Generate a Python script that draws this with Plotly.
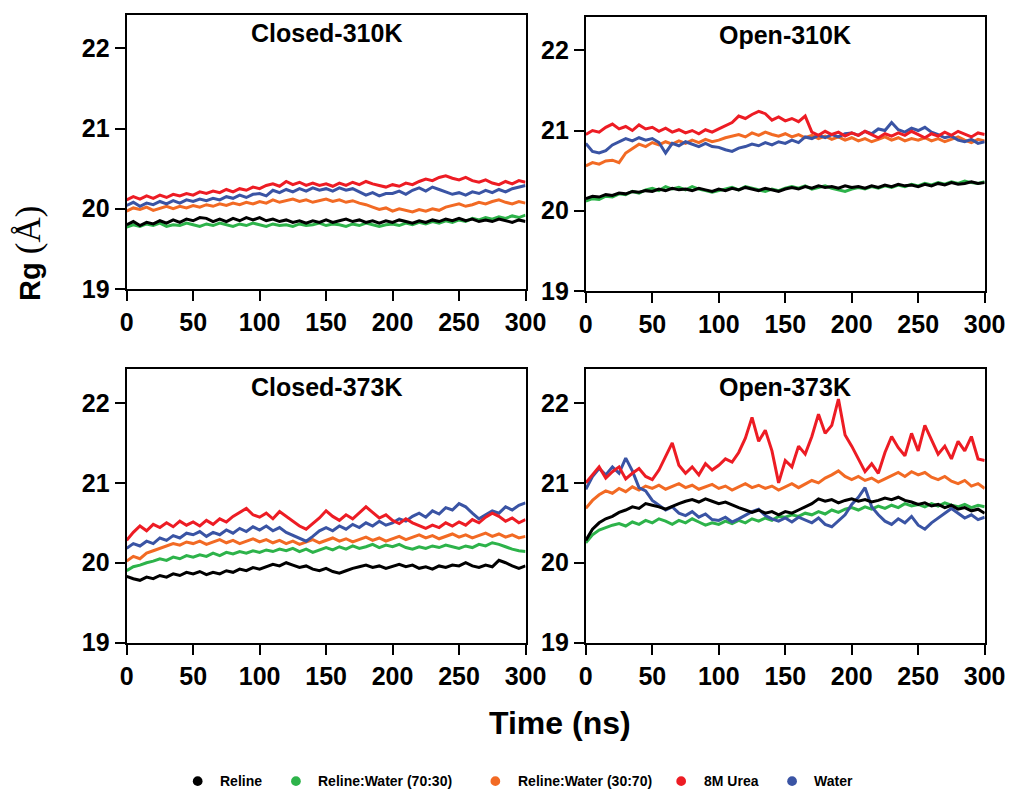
import plotly.graph_objects as go

# ---------------- data ----------------
time_ns = list(range(0, 301, 5))  # sampling every 5 ns

series_names = ["Reline", "Reline:Water (70:30)", "Reline:Water (30:70)", "8M Urea", "Water"]
series_colors = ["#000000", "#2DB34A", "#F26A24", "#ED1C24", "#3A54A4"]
panel_titles = ["Closed-310K", "Open-310K", "Closed-373K", "Open-373K"]
x_ticks = [0, 50, 100, 150, 200, 250, 300]
y_ticks = [19, 20, 21, 22]

# Closed-310K
c310_reline = [19.80,19.84,19.79,19.83,19.81,19.85,19.82,19.86,19.83,19.87,
               19.85,19.89,19.88,19.84,19.87,19.84,19.88,19.85,19.89,19.86,
               19.89,19.85,19.87,19.84,19.86,19.83,19.85,19.82,19.85,19.83,
               19.86,19.83,19.85,19.87,19.84,19.86,19.83,19.85,19.82,19.85,
               19.83,19.86,19.84,19.82,19.85,19.83,19.86,19.84,19.87,19.85,
               19.88,19.85,19.87,19.84,19.86,19.84,19.87,19.85,19.83,19.86,
               19.84]
c310_rw7030 = [19.77,19.80,19.78,19.81,19.79,19.82,19.78,19.80,19.79,19.82,
               19.80,19.78,19.81,19.79,19.82,19.80,19.78,19.81,19.79,19.82,
               19.80,19.78,19.81,19.79,19.80,19.78,19.81,19.79,19.80,19.82,
               19.79,19.81,19.80,19.78,19.81,19.79,19.82,19.80,19.78,19.80,
               19.81,19.79,19.82,19.80,19.83,19.81,19.84,19.82,19.85,19.83,
               19.86,19.84,19.88,19.86,19.89,19.87,19.90,19.88,19.91,19.89,
               19.92]
c310_rw3070 = [19.97,20.01,19.99,20.02,19.98,20.01,20.03,20.00,20.03,20.01,
               20.04,20.02,20.05,20.03,20.06,20.04,20.07,20.05,20.08,20.06,
               20.09,20.07,20.11,20.08,20.10,20.12,20.09,20.11,20.08,20.10,
               20.12,20.09,20.11,20.08,20.10,20.07,20.05,20.02,19.99,20.01,
               19.97,20.00,19.98,19.96,19.99,19.97,20.00,19.98,20.02,20.04,
               20.06,20.03,20.05,20.08,20.06,20.09,20.11,20.08,20.06,20.09,
               20.07]
c310_urea = [20.11,20.15,20.12,20.16,20.13,20.17,20.14,20.18,20.16,20.19,
             20.17,20.21,20.19,20.22,20.20,20.24,20.21,20.25,20.23,20.27,
             20.25,20.29,20.31,20.28,20.34,20.30,20.33,20.29,20.32,20.29,
             20.31,20.28,20.32,20.29,20.33,20.30,20.34,20.31,20.29,20.27,
             20.30,20.28,20.32,20.30,20.34,20.37,20.35,20.39,20.41,20.38,
             20.36,20.39,20.35,20.33,20.36,20.32,20.30,20.34,20.31,20.35,
             20.33]
c310_water = [20.04,20.08,20.03,20.07,20.05,20.09,20.06,20.10,20.07,20.11,
              20.09,20.12,20.10,20.13,20.11,20.15,20.13,20.17,20.14,20.18,
              20.19,20.16,20.23,20.20,20.24,20.21,20.25,20.22,20.26,20.23,
              20.25,20.22,20.26,20.23,20.25,20.21,20.17,20.20,20.16,20.19,
              20.19,20.22,20.18,20.23,20.26,20.22,20.27,20.24,20.21,20.18,
              20.20,20.17,20.21,20.19,20.23,20.20,20.24,20.21,20.25,20.27,
              20.29]

# Open-310K
o310_reline = [20.15,20.18,20.17,20.20,20.19,20.22,20.21,20.24,20.23,20.25,
               20.24,20.27,20.25,20.28,20.26,20.27,20.25,20.28,20.26,20.24,
               20.27,20.25,20.28,20.26,20.29,20.27,20.25,20.28,20.26,20.24,
               20.27,20.29,20.27,20.30,20.28,20.31,20.29,20.30,20.28,20.31,
               20.29,20.30,20.28,20.31,20.29,20.32,20.30,20.33,20.31,20.32,
               20.30,20.33,20.31,20.34,20.32,20.35,20.33,20.34,20.36,20.34,
               20.35]
o310_rw7030 = [20.12,20.15,20.14,20.18,20.17,20.21,20.20,20.24,20.22,20.26,
               20.28,20.25,20.30,20.27,20.29,20.26,20.30,20.27,20.25,20.23,
               20.25,20.27,20.29,20.26,20.30,20.28,20.26,20.24,20.27,20.25,
               20.28,20.30,20.28,20.31,20.27,20.29,20.31,20.28,20.26,20.24,
               20.27,20.29,20.27,20.30,20.28,20.31,20.29,20.32,20.30,20.33,
               20.31,20.34,20.32,20.35,20.33,20.36,20.34,20.37,20.35,20.34,
               20.36]
o310_rw3070 = [20.56,20.60,20.58,20.62,20.63,20.60,20.72,20.78,20.83,20.80,
               20.85,20.82,20.86,20.83,20.87,20.84,20.88,20.85,20.89,20.86,
               20.88,20.91,20.93,20.95,20.92,20.97,20.94,20.98,20.95,20.93,
               20.96,20.92,20.95,20.91,20.94,20.90,20.93,20.89,20.92,20.88,
               20.91,20.87,20.90,20.86,20.89,20.92,20.88,20.91,20.87,20.90,
               20.88,20.91,20.87,20.90,20.86,20.89,20.92,20.88,20.85,20.89,
               20.87]
o310_urea = [20.95,21.00,20.98,21.04,21.08,21.02,21.05,21.00,21.07,21.02,
             21.04,20.99,21.03,20.98,21.01,20.97,21.00,20.96,21.01,20.98,
             21.02,21.06,21.10,21.18,21.15,21.20,21.24,21.21,21.13,21.17,
             21.12,21.15,21.11,21.18,20.98,20.94,20.99,20.95,20.98,20.93,
             20.97,20.94,20.99,20.95,20.91,20.96,20.93,20.97,20.94,20.99,
             20.95,20.91,20.96,20.93,20.98,20.94,20.99,20.95,20.92,20.97,
             20.95]
o310_water = [20.84,20.74,20.72,20.75,20.82,20.86,20.90,20.87,20.91,20.88,
              20.90,20.85,20.72,20.84,20.81,20.86,20.83,20.80,20.84,20.80,
              20.79,20.76,20.74,20.78,20.80,20.83,20.81,20.85,20.82,20.86,
              20.84,20.88,20.85,20.92,20.90,20.94,20.91,20.95,20.92,20.96,
              20.97,20.94,20.99,20.96,21.02,21.00,21.10,21.01,20.98,21.03,
              21.00,21.04,20.98,20.95,20.91,20.93,20.88,20.86,20.89,20.84,
              20.86]

# Closed-373K
c373_reline = [19.83,19.80,19.78,19.82,19.80,19.84,19.82,19.86,19.84,19.88,
               19.86,19.89,19.85,19.88,19.86,19.90,19.88,19.92,19.90,19.94,
               19.92,19.95,19.98,19.96,20.00,19.97,19.94,19.96,19.92,19.90,
               19.93,19.89,19.87,19.90,19.93,19.95,19.97,19.94,19.96,19.93,
               19.96,19.98,19.95,19.97,19.93,19.95,19.92,19.96,19.94,19.97,
               19.96,20.00,19.96,19.94,19.97,19.95,20.03,20.00,19.96,19.93,
               19.96]
c373_rw7030 = [19.90,19.95,19.97,20.00,20.02,20.05,20.03,20.07,20.05,20.09,
               20.07,20.10,20.08,20.12,20.09,20.13,20.11,20.14,20.12,20.15,
               20.13,20.16,20.14,20.17,20.15,20.18,20.14,20.17,20.13,20.16,
               20.19,20.16,20.20,20.17,20.21,20.18,20.20,20.23,20.19,20.22,
               20.20,20.23,20.19,20.17,20.20,20.18,20.21,20.19,20.22,20.20,
               20.18,20.21,20.19,20.23,20.21,20.25,20.23,20.20,20.17,20.15,
               20.14]
c373_rw3070 = [20.02,20.08,20.05,20.12,20.15,20.18,20.21,20.24,20.22,20.26,
               20.24,20.27,20.23,20.26,20.29,20.25,20.28,20.24,20.27,20.30,
               20.26,20.29,20.25,20.28,20.24,20.27,20.23,20.26,20.29,20.25,
               20.28,20.31,20.27,20.30,20.26,20.29,20.32,20.28,20.31,20.27,
               20.30,20.33,20.29,20.32,20.35,20.31,20.34,20.30,20.33,20.36,
               20.32,20.35,20.31,20.34,20.37,20.33,20.36,20.32,20.35,20.31,
               20.33]
c373_urea = [20.28,20.38,20.46,20.40,20.48,20.44,20.50,20.45,20.52,20.47,
             20.51,20.46,20.53,20.48,20.55,20.51,20.58,20.63,20.68,20.60,
             20.57,20.62,20.55,20.64,20.58,20.51,20.46,20.42,20.49,20.56,
             20.65,20.58,20.53,20.60,20.55,20.62,20.70,20.63,20.56,20.60,
             20.53,20.49,20.55,20.50,20.46,20.43,20.47,20.44,20.50,20.46,
             20.51,20.47,20.54,20.50,20.57,20.62,20.58,20.52,20.56,20.50,
             20.54]
c373_water = [20.18,20.24,20.21,20.27,20.24,20.31,20.28,20.34,20.31,20.37,
              20.35,20.39,20.33,20.38,20.35,20.41,20.37,20.43,20.39,20.45,
              20.41,20.46,20.40,20.44,20.38,20.34,20.30,20.27,20.33,20.40,
              20.44,20.40,20.46,20.42,20.48,20.44,20.50,20.46,20.52,20.47,
              20.50,20.55,20.52,20.58,20.62,20.57,20.65,20.61,20.69,20.66,
              20.74,20.70,20.62,20.55,20.60,20.65,20.62,20.70,20.66,20.72,
              20.75]

# Open-373K
o373_reline = [20.28,20.42,20.50,20.55,20.58,20.63,20.66,20.70,20.68,20.74,
               20.72,20.70,20.67,20.71,20.74,20.77,20.79,20.76,20.80,20.77,
               20.74,20.76,20.72,20.69,20.66,20.63,20.66,20.62,20.64,20.60,
               20.64,20.62,20.66,20.70,20.74,20.80,20.77,20.79,20.75,20.78,
               20.80,20.77,20.79,20.76,20.78,20.81,20.79,20.82,20.78,20.76,
               20.73,20.75,20.71,20.73,20.69,20.72,20.67,20.69,20.65,20.67,
               20.62]
o373_rw7030 = [20.25,20.35,20.41,20.44,20.47,20.49,20.46,20.51,20.48,20.53,
               20.50,20.55,20.52,20.48,20.53,20.50,20.55,20.51,20.47,20.50,
               20.48,20.52,20.49,20.53,20.50,20.55,20.52,20.56,20.53,20.58,
               20.57,20.60,20.58,20.62,20.60,20.64,20.61,20.66,20.63,20.67,
               20.69,20.66,20.70,20.67,20.71,20.68,20.72,20.69,20.74,20.71,
               20.73,20.70,20.74,20.71,20.75,20.72,20.70,20.73,20.69,20.72,
               20.70]
o373_rw3070 = [20.68,20.78,20.85,20.90,20.87,20.93,20.89,20.95,20.91,20.96,
               20.93,20.97,20.92,20.96,20.99,20.94,20.97,20.92,20.95,20.98,
               20.93,20.96,20.91,20.95,20.99,20.94,20.97,20.93,20.96,20.91,
               20.95,20.99,20.94,20.98,21.03,21.00,21.06,21.10,21.15,21.08,
               21.04,21.08,21.03,21.06,21.01,21.05,21.09,21.13,21.08,21.14,
               21.10,21.13,21.07,21.04,21.08,21.02,20.99,21.03,20.96,20.99,
               20.93]
o373_urea = [21.00,21.10,21.20,21.06,21.14,21.20,21.05,21.12,21.18,21.08,
             21.04,21.16,21.32,21.50,21.22,21.12,21.20,21.10,21.24,21.16,
             21.22,21.30,21.26,21.38,21.56,21.82,21.52,21.66,21.40,21.00,
             21.28,21.20,21.46,21.36,21.58,21.86,21.62,21.72,22.05,21.60,
             21.46,21.30,21.14,21.24,21.12,21.38,21.58,21.44,21.34,21.62,
             21.40,21.72,21.54,21.36,21.46,21.30,21.52,21.40,21.58,21.30,
             21.28]
o373_water = [20.92,21.08,21.18,21.10,21.20,21.12,21.31,21.15,20.94,20.90,
              20.78,20.72,20.66,20.70,20.62,20.59,20.64,20.57,20.61,20.54,
              20.53,20.57,20.51,20.55,20.60,20.64,20.67,20.59,20.55,20.52,
              20.56,20.51,20.57,20.53,20.50,20.56,20.48,20.45,20.52,20.60,
              20.73,20.82,20.94,20.70,20.60,20.52,20.48,20.55,20.50,20.58,
              20.47,20.42,20.50,20.56,20.62,20.68,20.62,20.56,20.60,20.54,
              20.57]

panels = [
    [c310_reline, c310_rw7030, c310_rw3070, c310_urea, c310_water],
    [o310_reline, o310_rw7030, o310_rw3070, o310_urea, o310_water],
    [c373_reline, c373_rw7030, c373_rw3070, c373_urea, c373_water],
    [o373_reline, o373_rw7030, o373_rw3070, o373_urea, o373_water],
]

# ---------------- layout geometry ----------------
W, H = 1030, 803
def px_x(p): return p / W
def px_y(p): return 1 - p / H

x_domains = [[px_x(123), px_x(533)], [px_x(595), px_x(1005)],
             [px_x(123), px_x(533)], [px_x(595), px_x(1005)]]
y_domains = [[px_y(294), px_y(15)], [px_y(296), px_y(17)],
             [px_y(654), px_y(376)], [px_y(654), px_y(376)]]

FONT = "Liberation Sans, Arial, Helvetica, sans-serif"
draw_order = [1, 2, 4, 0, 3]  # green, orange, blue, black, red (red on top)

fig = go.Figure()
for p, series in enumerate(panels):
    xa = "x" if p == 0 else f"x{p+1}"
    ya = "y" if p == 0 else f"y{p+1}"
    for k in draw_order:
        vals = series[k]
        fig.add_trace(go.Scatter(
            x=time_ns[:len(vals)], y=vals, mode="lines",
            line=dict(color=series_colors[k], width=3),
            name=series_names[k], showlegend=False,
            xaxis=xa, yaxis=ya, hoverinfo="skip"))

axis_common = dict(
    showline=True, linewidth=2, linecolor="black", mirror=True,
    ticks="outside", ticklen=10, tickwidth=2, tickcolor="black",
    showgrid=False, zeroline=False,
    tickfont=dict(family=FONT, size=25, color="black", weight="bold"),
)

layout = dict(width=W, height=H, margin=dict(l=0, r=0, t=0, b=0),
              paper_bgcolor="white", plot_bgcolor="white", showlegend=False)
for p in range(4):
    xk = "xaxis" if p == 0 else f"xaxis{p+1}"
    yk = "yaxis" if p == 0 else f"yaxis{p+1}"
    xa = "x" if p == 0 else f"x{p+1}"
    ya = "y" if p == 0 else f"y{p+1}"
    layout[xk] = dict(axis_common, domain=x_domains[p], range=[0, 300],
                      tickvals=x_ticks, anchor=ya)
    layout[yk] = dict(axis_common, domain=y_domains[p], range=[19, 22.42],
                      tickvals=y_ticks, anchor=xa)
fig.update_layout(**layout)

annotations = []
for p, title in enumerate(panel_titles):
    xa = "x" if p == 0 else f"x{p+1}"
    ya = "y" if p == 0 else f"y{p+1}"
    annotations.append(dict(text=f"<b>{title}</b>", xref=f"{xa} domain", yref=f"{ya} domain",
                            x=0.5, y=1, yshift=-18, xanchor="center", yanchor="middle",
                            showarrow=False, font=dict(family=FONT, size=25, color="black")))

annotations.append(dict(text="<b>Time (ns)</b>", xref="paper", yref="paper",
                        x=px_x(568), y=px_y(736), xanchor="center", yanchor="middle",
                        showarrow=False, font=dict(family=FONT, size=32, color="black")))
annotations.append(dict(text="<b>Rg</b> <span style='font-family:Liberation Serif, Times New Roman, serif;font-size:35px'>(Å)</span>",
                        xref="paper", yref="paper", x=px_x(22), y=px_y(258),
                        xanchor="center", yanchor="middle", textangle=-90,
                        showarrow=False, font=dict(family=FONT, size=29, color="black")))

# legend drawn manually (dot + label)
legend_dot_x = [196, 297, 502, 693, 807]
legend_y = 795
shapes = []
for name, color, cx in zip(series_names, series_colors, legend_dot_x):
    r = 5
    shapes.append(dict(type="circle", xref="paper", yref="paper",
                       x0=px_x(cx - r), x1=px_x(cx + r), y0=px_y(legend_y + r), y1=px_y(legend_y - r),
                       fillcolor=color, line=dict(color=color, width=0)))
    annotations.append(dict(text=f"<b>{name}</b>", xref="paper", yref="paper",
                            x=px_x(cx + 21), y=px_y(legend_y), xanchor="left", yanchor="middle",
                            showarrow=False, font=dict(family=FONT, size=14, color="black")))

fig.update_layout(annotations=annotations, shapes=shapes)
fig.write_html("out.html")
